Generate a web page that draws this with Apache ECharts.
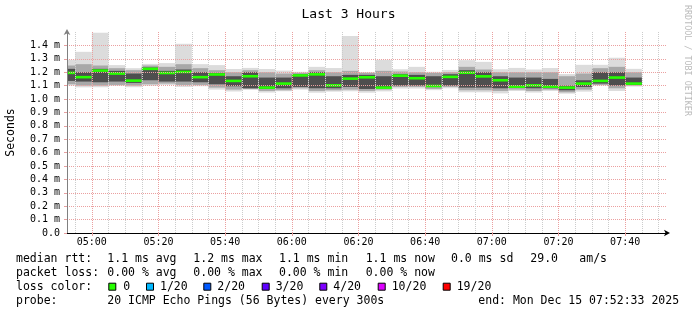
<!DOCTYPE html>
<html><head><meta charset="utf-8">
<script src="https://cdn.jsdelivr.net/npm/echarts@6/dist/echarts.min.js"></script>
<style>html,body{margin:0;padding:0;background:#fff}#c{width:697px;height:315px}</style>
</head><body><div id="c"></div>
<script>
// ---- data (ms) ----
const binStart = ['04:50','04:55','05:00','05:05','05:10','05:15','05:20','05:25','05:30','05:35',
  '05:40','05:45','05:50','05:55','06:00','06:05','06:10','06:15','06:20','06:25',
  '06:30','06:35','06:40','06:45','06:50','06:55','07:00','07:05','07:10','07:15',
  '07:20','07:25','07:30','07:35','07:40'];
const pingMin = [1.100,1.087,1.088,1.098,1.088,1.099,1.105,1.090,1.095,1.070,
  1.056,1.068,1.048,1.058,1.070,1.047,1.055,1.058,1.047,1.057,
  1.078,1.078,1.066,1.080,1.050,1.050,1.042,1.060,1.048,1.060,
  1.040,1.055,1.100,1.060,1.093];
const pingP10 = [1.110,1.100,1.100,1.105,1.100,1.110,1.115,1.105,1.105,1.085,
  1.070,1.075,1.060,1.065,1.080,1.060,1.065,1.070,1.060,1.070,
  1.090,1.090,1.075,1.090,1.065,1.065,1.060,1.070,1.060,1.070,
  1.050,1.070,1.105,1.080,1.100];
const pingP25 = [1.135,1.130,1.125,1.130,1.120,1.140,1.130,1.130,1.125,1.110,
  1.095,1.080,1.075,1.080,1.090,1.080,1.080,1.090,1.075,1.082,
  1.100,1.100,1.090,1.100,1.085,1.085,1.080,1.085,1.080,1.080,
  1.065,1.090,1.115,1.100,1.105];
const medianRtt = [1.195,1.163,1.212,1.190,1.137,1.225,1.194,1.202,1.163,1.183,
  1.135,1.170,1.085,1.115,1.176,1.184,1.102,1.152,1.162,1.085,
  1.174,1.155,1.097,1.165,1.196,1.169,1.140,1.092,1.102,1.092,
  1.085,1.115,1.135,1.160,1.115];
const pingP75 = [1.225,1.200,1.225,1.210,1.190,1.235,1.210,1.220,1.200,1.195,
  1.170,1.200,1.160,1.160,1.185,1.200,1.170,1.180,1.180,1.170,
  1.185,1.180,1.170,1.185,1.215,1.200,1.170,1.160,1.160,1.150,
  1.100,1.140,1.200,1.200,1.160];
const pingP90 = [1.250,1.260,1.250,1.230,1.215,1.250,1.240,1.260,1.230,1.215,
  1.200,1.215,1.200,1.190,1.195,1.215,1.200,1.210,1.195,1.210,
  1.205,1.200,1.195,1.200,1.240,1.220,1.200,1.200,1.200,1.200,
  1.170,1.190,1.230,1.240,1.200];
const pingMax = [1.293,1.352,1.495,1.253,1.230,1.262,1.268,1.412,1.260,1.253,
  1.224,1.232,1.224,1.212,1.203,1.240,1.231,1.470,1.201,1.292,
  1.222,1.240,1.203,1.217,1.290,1.277,1.222,1.232,1.220,1.231,
  1.186,1.255,1.255,1.308,1.225];
const xTickLabels = ['05:00','05:20','05:40','06:00','06:20','06:40','07:00','07:20','07:40'];
const startTime = '04:52:33', endTime = '07:52:33';
const lossLabels = ['0','1/20','2/20','3/20','4/20','10/20','19/20'];
const lossColors = ['#26ff00','#00b8ff','#0059ff','#5e00ff','#7e00ff','#dd00ff','#ff0000'];

// ---- helpers ----
const MONO = '"DejaVu Sans Mono", monospace';
const toMin = s => { const p = s.split(':').map(Number); return p[0]*60 + p[1] + (p[2]||0)/60; };
const fmtTime = v => { const m = Math.round(v); const h = Math.floor(m/60), mm = m%60; return String(h).padStart(2,'0')+':'+String(mm).padStart(2,'0'); };
const xMin = toMin(startTime), xMax = toMin(endTime);
const majorTicks = xTickLabels.map(toMin);
const minorTicks = [];
for (let t = Math.ceil(xMin/5)*5; t <= xMax; t += 5) if (majorTicks.indexOf(t) < 0) minorTicks.push(t);

const data = binStart.map((s,i) => [toMin(s), toMin(s)+5, pingMin[i], pingP10[i], pingP25[i], medianRtt[i], pingP75[i], pingP90[i], pingMax[i]]);

function renderItem(params, api) {
  const cs = params.coordSys;
  let x0 = api.coord([api.value(0), 0])[0];
  let x1 = api.coord([api.value(1), 0])[0];
  x0 = Math.max(x0, cs.x); x1 = Math.min(x1, cs.x + cs.width);
  const Y = v => api.coord([api.value(0), v])[1];
  const band = (lo, hi, fill) => ({type:'rect', shape:{x:x0, y:Y(hi), width:x1-x0, height:Y(lo)-Y(hi)}, style:{fill}});
  const ym = Y(api.value(5));
  return {type:'group', children:[
    band(api.value(2), api.value(8), '#DCDCDC'),
    band(api.value(3), api.value(7), '#A8A8A8'),
    band(api.value(4), api.value(6), '#4E4E4E'),
    {type:'rect', shape:{x:x0, y:ym-1.3, width:x1-x0, height:2.6}, style:{fill:lossColors[0]}}
  ]};
}

// ---- legend text ----
const F = '11.5px ' + MONO;
const txt = (x, y, s, extra) => Object.assign({type:'text', x, y, style:{text:s, font:F, fill:'#000', verticalAlign:'middle'}}, extra||{});
const graphics = [
  txt(16,259.5,'median rtt:'), txt(107.3,259.5,'1.1 ms avg'), txt(193.3,259.5,'1.2 ms max'), txt(279,259.5,'1.1 ms min'),
  txt(365.7,259.5,'1.1 ms now'), txt(451,259.5,'0.0 ms sd'), txt(530.3,259.5,'29.0'), txt(579.3,259.5,'am/s'),
  txt(16,273.5,'packet loss:'), txt(107.3,273.5,'0.00 % avg'), txt(193.3,273.5,'0.00 % max'), txt(279,273.5,'0.00 % min'), txt(365.7,273.5,'0.00 % now'),
  txt(16,287,'loss color:'),
  txt(16,301,'probe:'), txt(107.3,301,'20 ICMP Echo Pings (56 Bytes) every 300s'), txt(478.3,301,'end: Mon Dec 15 07:52:33 2025'),
  {type:'text', x:687.5, y:5, rotation:-Math.PI/2, style:{text:'RRDTOOL / TOBI OETIKER', font:'8.4px '+MONO, fill:'#BBBBBB', verticalAlign:'middle', align:'left'}}
];
const boxX = [108.3,146,203.3,261.7,319.3,377.7,442.7];
const labX = [123.3,160,217.3,275.7,333.3,391.7,456.7];
lossLabels.forEach((l,i) => {
  graphics.push({type:'rect', shape:{x:boxX[i]+0.5, y:283.2, width:7, height:7}, style:{fill:lossColors[i], stroke:'#000', lineWidth:1}});
  graphics.push(txt(labX[i],287,l));
});

const chart = echarts.init(document.getElementById('c'), null, {renderer:'canvas'});
chart.setOption({
  animation:false,
  backgroundColor:'#fff',
  title:{text:'Last 3 Hours', left:'center', top:3, textStyle:{fontFamily:MONO, fontSize:13, fontWeight:'normal', color:'#000'}},
  grid:{left:67, top:32, width:600, height:201, containLabel:false, outerBoundsMode:'none'},
  xAxis:[
    {type:'value', position:'bottom', min:xMin, max:xMax, z:5,
     axisLine:{show:true, onZero:false, lineStyle:{color:'#000'}, symbol:['none','arrow'], symbolSize:[5,6], symbolOffset:[0,3]},
     axisTick:{show:true, customValues:majorTicks, length:3, lineStyle:{color:'#E8A0A0'}},
     axisLabel:{customValues:majorTicks, formatter:fmtTime, fontFamily:MONO, fontSize:10, color:'#000', margin:4},
     splitLine:{show:true, lineStyle:{color:'#EBA0A0', type:[1,1], width:1}}},
    {type:'value', position:'top', min:xMin, max:xMax, z:5,
     axisLine:{show:false}, axisTick:{show:false, customValues:minorTicks}, axisLabel:{show:false},
     splitLine:{show:true, lineStyle:{color:'#CCCCCC', type:[1,1], width:1}}}
  ],
  yAxis:{type:'value', min:0, max:1.5, interval:0.1, z:5,
    name:'Seconds', nameLocation:'middle', nameGap:50, nameRotate:90,
    nameTextStyle:{fontFamily:MONO, fontSize:11.5, color:'#000'},
    axisLine:{show:true, onZero:false, lineStyle:{color:'#808080'}, symbol:['none','arrow'], symbolSize:[5,6], symbolOffset:[0,3]},
    axisTick:{show:true, length:3, lineStyle:{color:'#E8A0A0'}},
    axisLabel:{showMaxLabel:false, margin:7, fontFamily:MONO, fontSize:10, color:'#000',
      formatter: v => v < 1e-9 ? '0.0' : v.toFixed(1) + ' m'},
    splitLine:{show:true, showMaxLine:false, lineStyle:{color:'#EBA0A0', type:[1,1], width:1}}},
  graphic:graphics,
  series:[{type:'custom', renderItem, data, xAxisIndex:0, yAxisIndex:0, encode:{x:[0,1], y:[2,8]}, z:2}]
});
</script></body></html>
